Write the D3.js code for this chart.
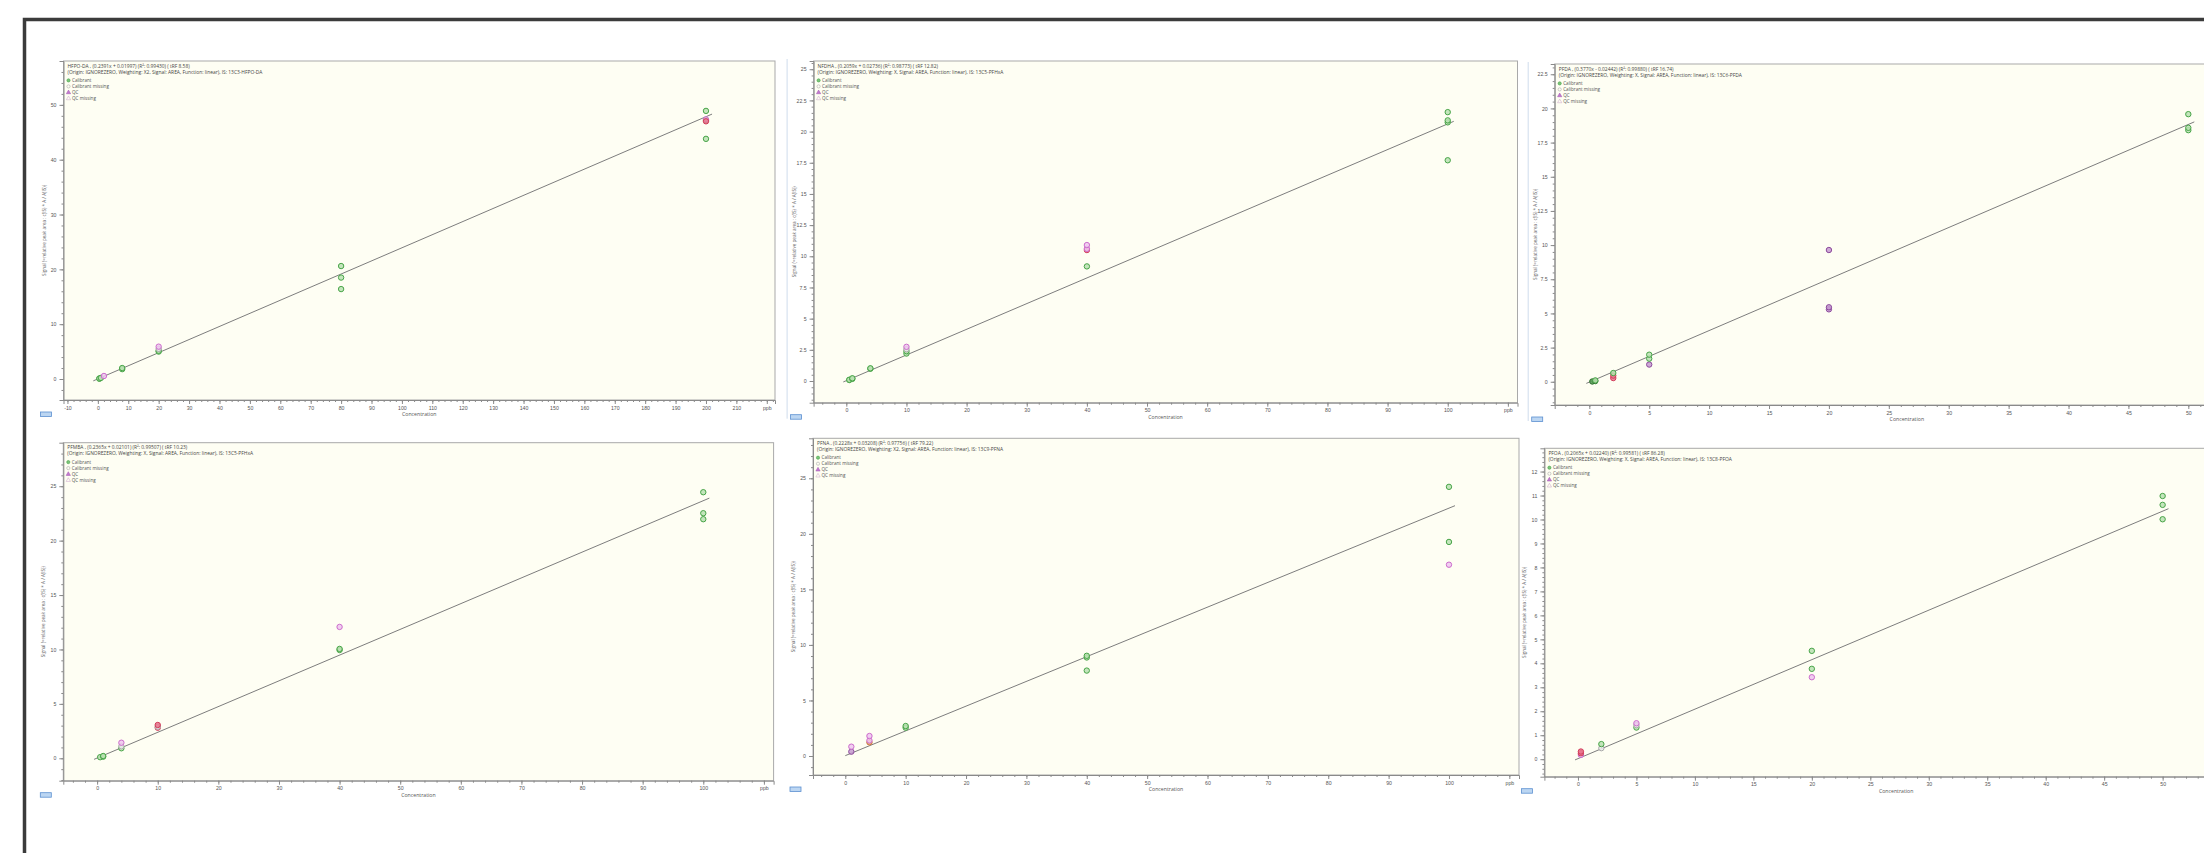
<!DOCTYPE html>
<html>
<head>
<meta charset="utf-8">
<script src="https://cdn.jsdelivr.net/npm/d3@7"></script>
<style>
  html, body { margin: 0; padding: 0; background: #fff; }
  svg { display: block; font-family: 'Open Sans', sans-serif; }
  .tick text { fill: #555; }
  .axis path, .axis line { stroke: #8a8a8a; }
</style>
</head>
<body>
<div id="chart"></div>
<script>
// compound names, equation line and processing line, one per panel
const compounds = ['HFPO-DA', 'NFDHA', 'PFDA', 'PFMBA', 'PFNA', 'PFOA'];
const equations = [
  '(0.2391x + 0.01997) (R\u00b2: 0.99430) ( tRF 8.58)',
  '(0.2059x + 0.02736) (R\u00b2: 0.98773) ( tRF 12.82)',
  '(0.3770x - 0.02442) (R\u00b2: 0.99880) ( tRF 16.74)',
  '(0.2365x + 0.02101) (R\u00b2: 0.99507) ( tRF 10.23)',
  '(0.2228x + 0.03208) (R\u00b2: 0.97756) ( tRF 79.22)',
  '(0.2065x + 0.02240) (R\u00b2: 0.99581) ( tRF 86.28)'
];
const processing = [
  '(Origin: IGNOREZERO, Weighting: X2, Signal: AREA, Function: linear), IS: 13C3-HFPO-DA',
  '(Origin: IGNOREZERO, Weighting: X, Signal: AREA, Function: linear), IS: 13C5-PFHxA',
  '(Origin: IGNOREZERO, Weighting: X, Signal: AREA, Function: linear), IS: 13C6-PFDA',
  '(Origin: IGNOREZERO, Weighting: X, Signal: AREA, Function: linear), IS: 13C5-PFHxA',
  '(Origin: IGNOREZERO, Weighting: X2, Signal: AREA, Function: linear), IS: 13C9-PFNA',
  '(Origin: IGNOREZERO, Weighting: X, Signal: AREA, Function: linear), IS: 13C8-PFOA'
];
const slopes = [0.2391, 0.2059, 0.3770, 0.2365, 0.2228, 0.2065];
const intercepts = [0.01997, 0.02736, -0.02442, 0.02101, 0.03208, 0.02240];

const legendLabels = ['Calibrant', 'Calibrant missing', 'QC', 'QC missing'];

// [concentration, signal, kind]
const hfpoPoints = [
  [0.5, 0.05, 'cal'], [0.5, 0.1, 'cal'], [1, 0.2, 'cal'], [2, 0.55, 'qc'],
  [8, 1.8, 'cal'], [8, 2.0, 'cal'],
  [20, 5.0, 'cal'], [20, 5.15, 'cal'], [20, 5.5, 'gray'], [20, 5.9, 'qc'],
  [80, 16.4, 'cal'], [80, 18.5, 'cal'], [80, 20.6, 'cal'],
  [200, 43.8, 'cal'], [200, 47.2, 'cal'], [200, 47.35, 'qc'], [200, 47.0, 'red'], [200, 48.9, 'cal']
];
const nfdhaPoints = [
  [0.5, 0.08, 'cal'], [0.5, 0.1, 'cal'], [1, 0.17, 'cal'], [1, 0.22, 'cal'],
  [4, 0.98, 'cal'], [4, 1.02, 'cal'],
  [10, 2.2, 'cal'], [10, 2.39, 'cal'], [10, 2.55, 'gray'], [10, 2.74, 'qc'],
  [40, 9.19, 'cal'], [40, 10.5, 'red'], [40, 10.6, 'qc'], [40, 10.9, 'qc'],
  [100, 17.7, 'cal'], [100, 20.74, 'cal'], [100, 20.9, 'cal'], [100, 21.56, 'cal']
];
const pfdaPoints = [
  [0.25, 0.02, 'dark'], [0.5, 0.05, 'dark'], [0.5, 0.1, 'cal'],
  [2, 0.27, 'red'], [2, 0.45, 'red'], [2, 0.64, 'cal'],
  [5, 1.26, 'purple'], [5, 1.69, 'cal'], [5, 1.98, 'cal'],
  [20, 5.3, 'purple'], [20, 5.45, 'purple'], [20, 9.64, 'purple'],
  [50, 18.41, 'cal'], [50, 18.58, 'cal'], [50, 19.58, 'cal']
];
const pfmbaPoints = [
  [0.5, 0.1, 'cal'], [1, 0.15, 'cal'], [1, 0.21, 'cal'],
  [4, 0.92, 'cal'], [4, 1.1, 'gray'], [4, 1.43, 'qc'],
  [10, 2.81, 'red'], [10, 2.9, 'gray'], [10, 3.06, 'red'],
  [40, 9.95, 'cal'], [40, 10.05, 'cal'], [40, 12.07, 'qc'],
  [100, 21.97, 'cal'], [100, 22.52, 'cal'], [100, 24.45, 'cal']
];
const pfnaPoints = [
  [1, 0.39, 'purple'], [1, 0.84, 'qc'],
  [4, 1.23, 'orange'], [4, 1.4, 'qc'], [4, 1.8, 'qc'],
  [10, 2.55, 'cal'], [10, 2.7, 'cal'],
  [40, 7.69, 'cal'], [40, 8.87, 'cal'], [40, 9.02, 'cal'],
  [100, 17.22, 'qc'], [100, 19.27, 'cal'], [100, 24.23, 'cal']
];
const pfoaPoints = [
  [0.25, 0.18, 'qc'], [0.25, 0.25, 'red'], [0.25, 0.32, 'red'],
  [2, 0.46, 'gray'], [2, 0.63, 'cal'],
  [5, 1.32, 'cal'], [5, 1.42, 'gray'], [5, 1.5, 'qc'],
  [20, 3.42, 'qc'], [20, 3.77, 'cal'], [20, 4.52, 'cal'],
  [50, 10.01, 'cal'], [50, 10.61, 'cal'], [50, 10.98, 'cal']
];
const allPoints = [hfpoPoints, nfdhaPoints, pfdaPoints, pfmbaPoints, pfnaPoints, pfoaPoints];

// axis tick values per panel; the tick at unitTick is labelled with the unit
const xTicks = [
  d3.range(-10, 221, 10), d3.range(0, 111, 10), d3.range(0, 51, 5),
  d3.range(0, 111, 10), d3.range(0, 111, 10), d3.range(0, 51, 5)
];
const unitTick = [220, 110, 55, 110, 110, 55];
const yTicks = [
  d3.range(0, 51, 10), d3.range(0, 25.1, 2.5), d3.range(0, 22.6, 2.5),
  d3.range(0, 26, 5), d3.range(0, 26, 5), d3.range(0, 12.1, 1)
];
const xMinorStep = [2, 2, 1, 2, 2, 1];
const yMinorStep = [2, 0.5, 0.5, 1, 1, 0.2];

/* Layout (plot boxes and axis ranges)
=========================================================================*/
const layout = [
  { box: [63.5, 61, 775, 400], x: [-11.3, 222.7], y: [-3.83, 58.0] },
  { box: [813.6, 61, 1517.5, 402.7], x: [-5.44, 111.6], y: [-1.74, 25.66] },
  { box: [1554.7, 64, 2259, 405], x: [-2.89, 55.9], y: [-1.7, 23.25] },
  { box: [63.3, 442.7, 773.6, 780.7], x: [-5.58, 111.6], y: [-2.06, 29.0] },
  { box: [813, 438.3, 1519, 775], x: [-5.35, 111.6], y: [-1.71, 28.6] },
  { box: [1544.4, 448.3, 2248, 776.7], x: [-2.87, 57.3], y: [-0.73, 12.97] }
];

const style = {
  cal: { stroke: '#47a447', fill: '#b9e0b0' },
  gray: { stroke: '#a8a8a8', fill: '#ececec' },
  qc: { stroke: '#cc6ccc', fill: '#efc6ef' },
  red: { stroke: '#d23c5a', fill: '#e9778e' },
  purple: { stroke: '#8c4a9c', fill: '#c59ad0' },
  orange: { stroke: '#c8703a', fill: '#e7a874' },
  dark: { stroke: '#2f6f2f', fill: '#4f9a4f' }
};

const W = 2204, H = 853;
const svg = d3.select('#chart').append('svg').attr('width', W).attr('height', H);

// outer window frame
svg.append('rect')
  .attr('x', 24.5).attr('y', 19.5).attr('width', 2400).attr('height', 1000)
  .attr('fill', 'none').attr('stroke', '#3b3b3b').attr('stroke-width', 3.5);

layout.forEach((L, i) => {
  const [x0, y0, x1, y1] = L.box;
  const x = d3.scaleLinear().domain(L.x).range([x0, x1]);
  const y = d3.scaleLinear().domain(L.y).range([y1, y0]);
  const g = svg.append('g');

  if (i === 1 || i === 2) {
    g.append('line').attr('x1', x0 - 26.5).attr('x2', x0 - 26.5).attr('y1', y0 - 2).attr('y2', y1 + 16)
      .attr('stroke', '#cfdcec').attr('stroke-width', 1);
  }

  g.append('rect')
    .attr('x', x0).attr('y', y0).attr('width', x1 - x0).attr('height', y1 - y0)
    .attr('fill', '#fefef3').attr('stroke', '#a9a9a9').attr('stroke-width', 1);

  /* Axes
  =======================================================================*/
  const xt = xTicks[i];
  const xMinor = d3.range(Math.ceil(L.x[0] / xMinorStep[i]) * xMinorStep[i], L.x[1], xMinorStep[i]);
  const yMinor = d3.range(Math.ceil(L.y[0] / yMinorStep[i]) * yMinorStep[i], L.y[1], yMinorStep[i]);

  g.append('g').attr('class', 'axis').attr('transform', `translate(0,${y1})`)
    .call(d3.axisBottom(x).tickValues(xMinor).tickSize(2).tickFormat(''))
    .call(s => s.select('.domain').remove());
  g.append('g').attr('class', 'axis').attr('transform', `translate(0,${y1})`)
    .call(d3.axisBottom(x).tickValues(xt).tickSize(4).tickPadding(2)
      .tickFormat(d => (d === unitTick[i] ? 'ppb' : d)))
    .call(s => s.selectAll('text').attr('font-size', 5.2))
    .call(s => s.select('.domain').attr('stroke', '#7a7a7a'));

  g.append('g').attr('class', 'axis').attr('transform', `translate(${x0},0)`)
    .call(d3.axisLeft(y).tickValues(yMinor).tickSize(2).tickFormat(''))
    .call(s => s.select('.domain').remove());
  g.append('g').attr('class', 'axis').attr('transform', `translate(${x0},0)`)
    .call(d3.axisLeft(y).tickValues(yTicks[i]).tickSize(4).tickPadding(3).tickFormat(d3.format('~g')))
    .call(s => s.selectAll('text').attr('font-size', 5.2))
    .call(s => s.select('.domain').attr('stroke', '#7a7a7a'));

  g.append('text')
    .attr('x', (x0 + x1) / 2).attr('y', y1 + 16).attr('text-anchor', 'middle')
    .attr('font-size', 5.2).attr('fill', '#555').text('Concentration');

  g.append('text')
    .attr('transform', `translate(${x0 - 18},${(y0 + y1) / 2}) rotate(-90)`)
    .attr('text-anchor', 'middle').attr('font-size', 4.6).attr('fill', '#666')
    .text('Signal (=relative peak area : c(IS) * A / A(IS))');

  // small blue button under the y axis
  g.append('rect')
    .attr('x', x0 - 23).attr('y', y1 + 12).attr('width', 11).attr('height', 4.5)
    .attr('fill', '#bcd6f2').attr('stroke', '#5b8fd0').attr('stroke-width', 0.8);

  /* Title and legend
  =======================================================================*/
  const clip = `clip-${i}`;
  svg.append('clipPath').attr('id', clip)
    .append('rect').attr('x', x0).attr('y', y0).attr('width', x1 - x0).attr('height', y1 - y0);
  const inner = g.append('g').attr('clip-path', `url(#${clip})`);

  inner.append('text').attr('x', x0 + 4).attr('y', y0 + 6.5).attr('font-size', 4.9).attr('fill', '#444')
    .text(`${compounds[i]} , ${equations[i]}`);
  inner.append('text').attr('x', x0 + 4).attr('y', y0 + 12.5).attr('font-size', 4.9).attr('fill', '#444')
    .text(processing[i]);

  legendLabels.forEach((lab, k) => {
    const ly = y0 + 21 + k * 6;
    const mx = x0 + 5;
    if (k < 2) {
      inner.append('circle').attr('cx', mx).attr('cy', ly - 1.6).attr('r', 1.6)
        .attr('fill', k === 0 ? '#7cc47c' : 'none').attr('stroke', k === 0 ? '#47a447' : '#aaa').attr('stroke-width', 0.6);
    } else {
      inner.append('path').attr('d', d3.symbol(d3.symbolTriangle, 8)())
        .attr('transform', `translate(${mx},${ly - 1.5})`)
        .attr('fill', k === 2 ? '#c27bd0' : 'none').attr('stroke', k === 2 ? '#a050b0' : '#c8a0c8').attr('stroke-width', 0.5);
    }
    inner.append('text').attr('x', x0 + 8.5).attr('y', ly).attr('font-size', 4.6).attr('fill', '#555').text(lab);
  });

  /* Regression line and points
  =======================================================================*/
  const pts = allPoints[i];
  const cMin = d3.min(pts, d => d[0]);
  const cMax = d3.max(pts, d => d[0]);
  const lineX = [cMin - 0.01 * cMax, cMax * 1.01];
  inner.append('path')
    .attr('d', d3.line().x(d => x(d)).y(d => y(slopes[i] * d + intercepts[i]))(lineX))
    .attr('fill', 'none').attr('stroke', '#7d7d7d').attr('stroke-width', 1);

  inner.selectAll('circle.pt')
    .data(pts)
    .enter()
    .append('circle')
    .attr('class', 'pt')
    .attr('cx', d => x(d[0]))
    .attr('cy', d => y(d[1]))
    .attr('r', 2.7)
    .attr('fill', d => style[d[2]].fill)
    .attr('fill-opacity', 0.85)
    .attr('stroke', d => style[d[2]].stroke)
    .attr('stroke-width', 1);
});
</script>
</body>
</html>
